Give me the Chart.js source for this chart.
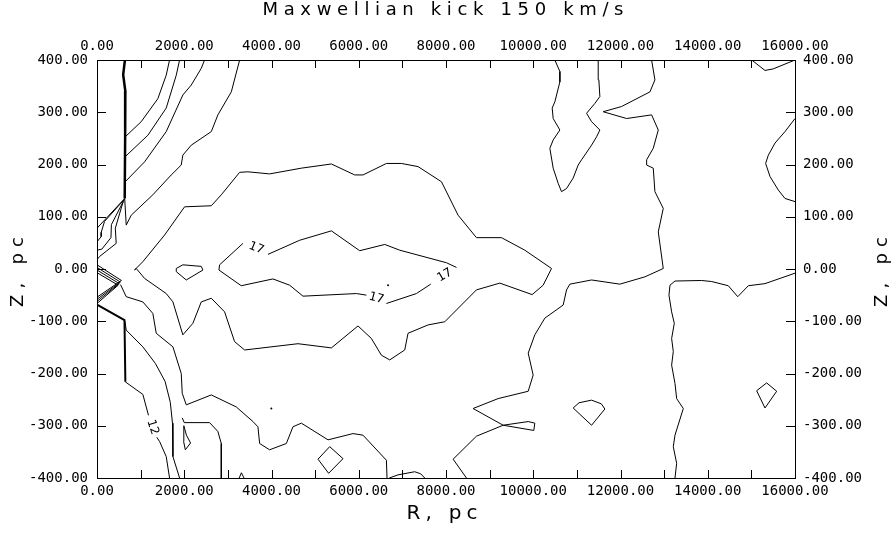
<!DOCTYPE html>
<html>
<head>
<meta charset="utf-8">
<script src="https://cdn.jsdelivr.net/npm/chart.js@4"></script>
<style>
  body { margin: 0; background: #fff; }
  canvas { display: block; }
</style>
</head>
<body>
<canvas id="c" width="894" height="533"></canvas>
<script>
// axis ticks
const xTicks = [0, 2000, 4000, 6000, 8000, 10000, 12000, 14000, 16000];
const yTicks = [-400, -300, -200, -100, 0, 100, 200, 300, 400];

// contour lines, [R pc, Z pc]
const thickTop = [[640,400],[600,372],[650,340],[645,250],[635,135]];
const fan1 = [[635,135],[0,78]];
const fan2 = [[635,134],[172,91],[96,70],[96,62],[0,52]];
const fan3 = [[620,132],[330,85],[320,60],[110,38],[0,36]];
const fan4 = [[600,129],[420,78],[440,49],[60,24],[0,18]];
const zz1 = [[0,8],[560,-22],[0,-54]];
const zz2 = [[0,3],[535,-25],[0,-58]];
const zz3 = [[0,-2],[510,-28],[0,-62]];
const zz4 = [[0,-7],[485,-31],[0,-66]];
const thickLow = [[0,-68],[630,-98],[650,-216]];
const c12a = [[650,-216],[1051,-240],[1180,-280]];
const c12b = [[1370,-322],[1434,-330],[1587,-359],[1663,-400]];
const lineB = [[640,-100],[670,-117],[1051,-149],[1340,-181],[1560,-215],[1680,-255],[1730,-295],[1740,-359],[1893,-400]];
const lineC = [[540,-30],[670,-53],[1051,-63],[1280,-85],[1358,-123],[1740,-149],[1931,-200],[1954,-238],[2046,-260],[2620,-241],[3193,-264],[3575,-292],[3689,-302],[3728,-334],[3957,-346],[4340,-334],[4492,-302],[4684,-295],[5295,-327],[5868,-315],[6097,-318],[6634,-366],[6648,-400]];
const lineD = [[1954,-285],[2000,-294],[2581,-294],[2771,-311],[2849,-334],[2849,-400]];
const bigLoop = [[860,-2],[1051,14],[1549,65],[2008,119],[2620,121],[2849,142],[3269,185],[3459,186],[3957,182],[4684,193],[5373,201],[5907,180],[6097,180],[6634,202],[6978,202],[7359,196],[7896,167],[8277,103],[8698,60],[9272,60],[9807,36],[10419,1],[10227,-31],[9975,-49],[9233,-27],[8698,-40],[7972,-101],[7589,-107],[7130,-123],[7054,-155],[6710,-174],[6519,-165],[6290,-133],[5983,-109],[5373,-151],[4607,-143],[3384,-155],[3154,-139],[2925,-82],[2620,-56],[2390,-63],[2198,-104],[1968,-126],[1740,-63],[1587,-47],[1090,-18],[899,1],[860,-2]];
const lineE = [[635,135],[670,84],[785,103],[1280,142],[1702,180],[1931,199],[1968,218],[2161,237],[2620,263],[2771,295],[3079,339],[3270,400]];
const lineF = [[647,253],[1014,282],[1395,326],[1587,371],[1663,400]];
const lineG = [[647,215],[1166,256],[1587,308],[1817,371],[1893,400]];
const lineH = [[647,167],[1090,205],[1587,263],[1968,333],[2160,352],[2390,384],[2466,400]];
const c17a = [[3345,49],[2810,8],[2795,-2],[3307,-32],[4033,-19],[4416,-31],[4722,-52],[5946,-47],[6175,-50]];
const c17b = [[6634,-66],[7322,-47],[7650,-29]];
const c17c = [[8240,3],[8010,12],[6940,36],[6596,47],[6022,35],[5373,73],[4646,55],[3919,28]];
const loopA = [[1817,1],[1968,8],[2390,5],[2428,-2],[2046,-21],[1817,-5],[1817,1]];
const loopB = [[1990,-300],[2050,-318],[2145,-333],[2025,-346],[1985,-330],[1990,-300]];
const caret = [[3260,-400],[3310,-390],[3370,-400]];
const diamond = [[5066,-364],[5334,-340],[5639,-363],[5310,-391],[5066,-364]];
const arcBottom = [[6700,-400],[6900,-394],[7283,-388],[7420,-392],[7513,-400]];
const lineI = [[8469,-400],[8163,-364],[8698,-320],[9310,-299],[10013,-309],[10036,-295],[9884,-292],[9310,-299],[8621,-267],[9195,-248],[9884,-234],[9998,-203],[9884,-161],[10036,-126],[10266,-94],[10686,-69],[10763,-40],[10839,-29],[11337,-21],[11986,-29],[12560,-15],[12904,-2],[12980,1],[12866,71],[12980,116],[12789,148],[12751,193],[12599,199],[12599,209],[12751,231],[12866,266],[12713,295],[12140,288],[11603,301],[12025,311],[12675,339],[12789,362],[12713,400]];
const lineJ = [[10495,400],[10610,378],[10610,358],[10495,320],[10434,308],[10457,288],[10610,266],[10457,247],[10381,231],[10457,193],[10571,164],[10648,148],[10763,154],[10915,174],[11030,199],[11107,209],[11337,237],[11452,253],[11527,266],[11337,282],[11222,298],[11413,317],[11527,330],[11504,362],[11489,400]];
const loopC = [[10915,-266],[11050,-256],[11337,-251],[11560,-258],[11642,-268],[11337,-299],[10915,-266]];
const lineK = [[13249,-400],[13287,-372],[13210,-340],[13249,-318],[13440,-267],[13287,-248],[13249,-219],[13172,-184],[13210,-158],[13172,-133],[13233,-104],[13172,-82],[13111,-50],[13134,-31],[13249,-23],[13860,-22],[14090,-24],[14471,-32],[14687,-53],[14930,-32],[15312,-28],[16000,-8]];
const loopD = [[15121,-233],[15350,-218],[15580,-234],[15312,-266],[15121,-233]];
const lineL = [[16000,288],[15771,263],[15542,241],[15389,218],[15327,202],[15427,177],[15618,151],[15771,135],[16000,129]];
const lineM = [[15007,400],[15312,380],[15500,383],[16000,400]];
const dots = [[3996,-267],[6672,-31]];

// contour level labels: text, R, Z, angle (deg)
const levelLabels = [
    ['17', 3652, 40, 22],
    ['17', 6405, -56, 15],
    ['17', 7972, -12, -30],
    ['12', 1275, -303, 72]
];

const thinLines = [fan1, fan2, fan3, fan4, zz1, zz2, zz3, zz4, c12a, c12b, lineB, lineC, lineD,
    bigLoop, lineE, lineF, lineG, lineH, c17a, c17b, c17c, loopA, loopB, caret, diamond, arcBottom,
    lineI, lineJ, loopC, lineK, loopD, lineL, lineM];

function toPts(arr) {
    return arr.map(([r, z]) => ({x: r, y: z}));
}

const datasets = [];
thinLines.forEach(l => datasets.push({data: toPts(l), borderWidth: 1}));
datasets.push({data: toPts(thickTop), borderWidth: 2.5});
datasets.push({data: toPts(thickLow), borderWidth: 2});
datasets.forEach(d => {
    d.showLine = true;
    d.borderColor = '#000';
    d.pointRadius = 0;
    d.tension = 0;
    d.fill = false;
});
datasets.push({data: toPts(dots), showLine: false, pointRadius: 1, pointBorderWidth: 0, backgroundColor: '#000'});

// draw text with its letters spread over a given width
function spreadText(ctx, text, x, y, width, font, angle) {
    ctx.save();
    ctx.font = font;
    ctx.translate(x, y);
    ctx.rotate(angle);
    ctx.textAlign = 'left';
    ctx.textBaseline = 'alphabetic';
    const chars = text.split('');
    const widths = chars.map(c => ctx.measureText(c).width);
    const total = widths.reduce((a, b) => a + b, 0);
    const gap = (width - total) / (chars.length - 1);
    let cx = -width / 2;
    chars.forEach((c, i) => {
        ctx.fillText(c, cx, 0);
        cx += widths[i] + gap;
    });
    ctx.restore();
}

const decor = {
    id: 'decor',
    afterDraw(chart) {
        const {ctx, chartArea: a, scales} = chart;
        ctx.save();
        ctx.strokeStyle = '#000';
        ctx.lineWidth = 1;
        ctx.beginPath();
        for (let v = 1000; v < 16000; v += 1000) {
            const x = Math.round(scales.x.getPixelForValue(v)) + 0.5;
            ctx.moveTo(x, a.bottom); ctx.lineTo(x, a.bottom - 8);
            ctx.moveTo(x, a.top); ctx.lineTo(x, a.top + 8);
        }
        for (let v = -300; v <= 300; v += 100) {
            const y = Math.round(scales.y.getPixelForValue(v)) + 0.5;
            ctx.moveTo(a.left, y); ctx.lineTo(a.left + 9, y);
            ctx.moveTo(a.right, y); ctx.lineTo(a.right - 9, y);
        }
        ctx.stroke();

        // level labels on the contours
        ctx.fillStyle = '#000';
        ctx.font = '12px "DejaVu Sans"';
        ctx.textAlign = 'center';
        ctx.textBaseline = 'middle';
        levelLabels.forEach(([t, r, z, ang]) => {
            ctx.save();
            ctx.translate(scales.x.getPixelForValue(r), scales.y.getPixelForValue(z));
            ctx.rotate(ang * Math.PI / 180);
            ctx.fillText(t, 0, 0);
            ctx.restore();
        });

        // titles
        spreadText(ctx, 'Maxwellian kick 150 km/s', 443, 15, 361, '18px "DejaVu Sans"', 0);
        spreadText(ctx, 'R, pc', 442, 519, 71, '20px "DejaVu Sans"', 0);
        spreadText(ctx, 'Z, pc', 23, 272, 70, '18px "DejaVu Sans"', -Math.PI / 2);
        spreadText(ctx, 'Z, pc', 887, 272, 70, '18px "DejaVu Sans"', -Math.PI / 2);
        ctx.restore();
    }
};

const tickFont = {family: 'DejaVu Sans Mono', size: 14};

function xAxis(pos, h, pad) {
    return {
        type: 'linear', position: pos, display: true, min: 0, max: 16000,
        afterBuildTicks: s => { s.ticks = xTicks.map(v => ({value: v})); },
        afterFit: s => { s.height = h; },
        ticks: {callback: v => v.toFixed(2), font: tickFont, color: '#000', padding: pad, maxRotation: 0, autoSkip: false},
        grid: {display: false, drawTicks: false},
        border: {color: '#000', width: 1}
    };
}

function yAxis(pos, w, pad) {
    return {
        type: 'linear', position: pos, display: true, min: -400, max: 400,
        afterBuildTicks: s => { s.ticks = yTicks.map(v => ({value: v})); },
        afterFit: s => { s.width = w; },
        ticks: {callback: v => v.toFixed(2), font: tickFont, color: '#000', padding: pad, autoSkip: false},
        grid: {display: false, drawTicks: false},
        border: {color: '#000', width: 1}
    };
}

new Chart(document.getElementById('c'), {
    type: 'scatter',
    data: {datasets: datasets},
    options: {
        responsive: false,
        animation: false,
        devicePixelRatio: 1,
        layout: {padding: 0},
        plugins: {legend: {display: false}, tooltip: {enabled: false}, title: {display: false}},
        scales: {
            x: xAxis('bottom', 55, 5),
            x2: xAxis('top', 60, 5),
            y: yAxis('left', 97, 9),
            y2: yAxis('right', 99, 8)
        }
    },
    plugins: [decor]
});
</script>
</body>
</html>
